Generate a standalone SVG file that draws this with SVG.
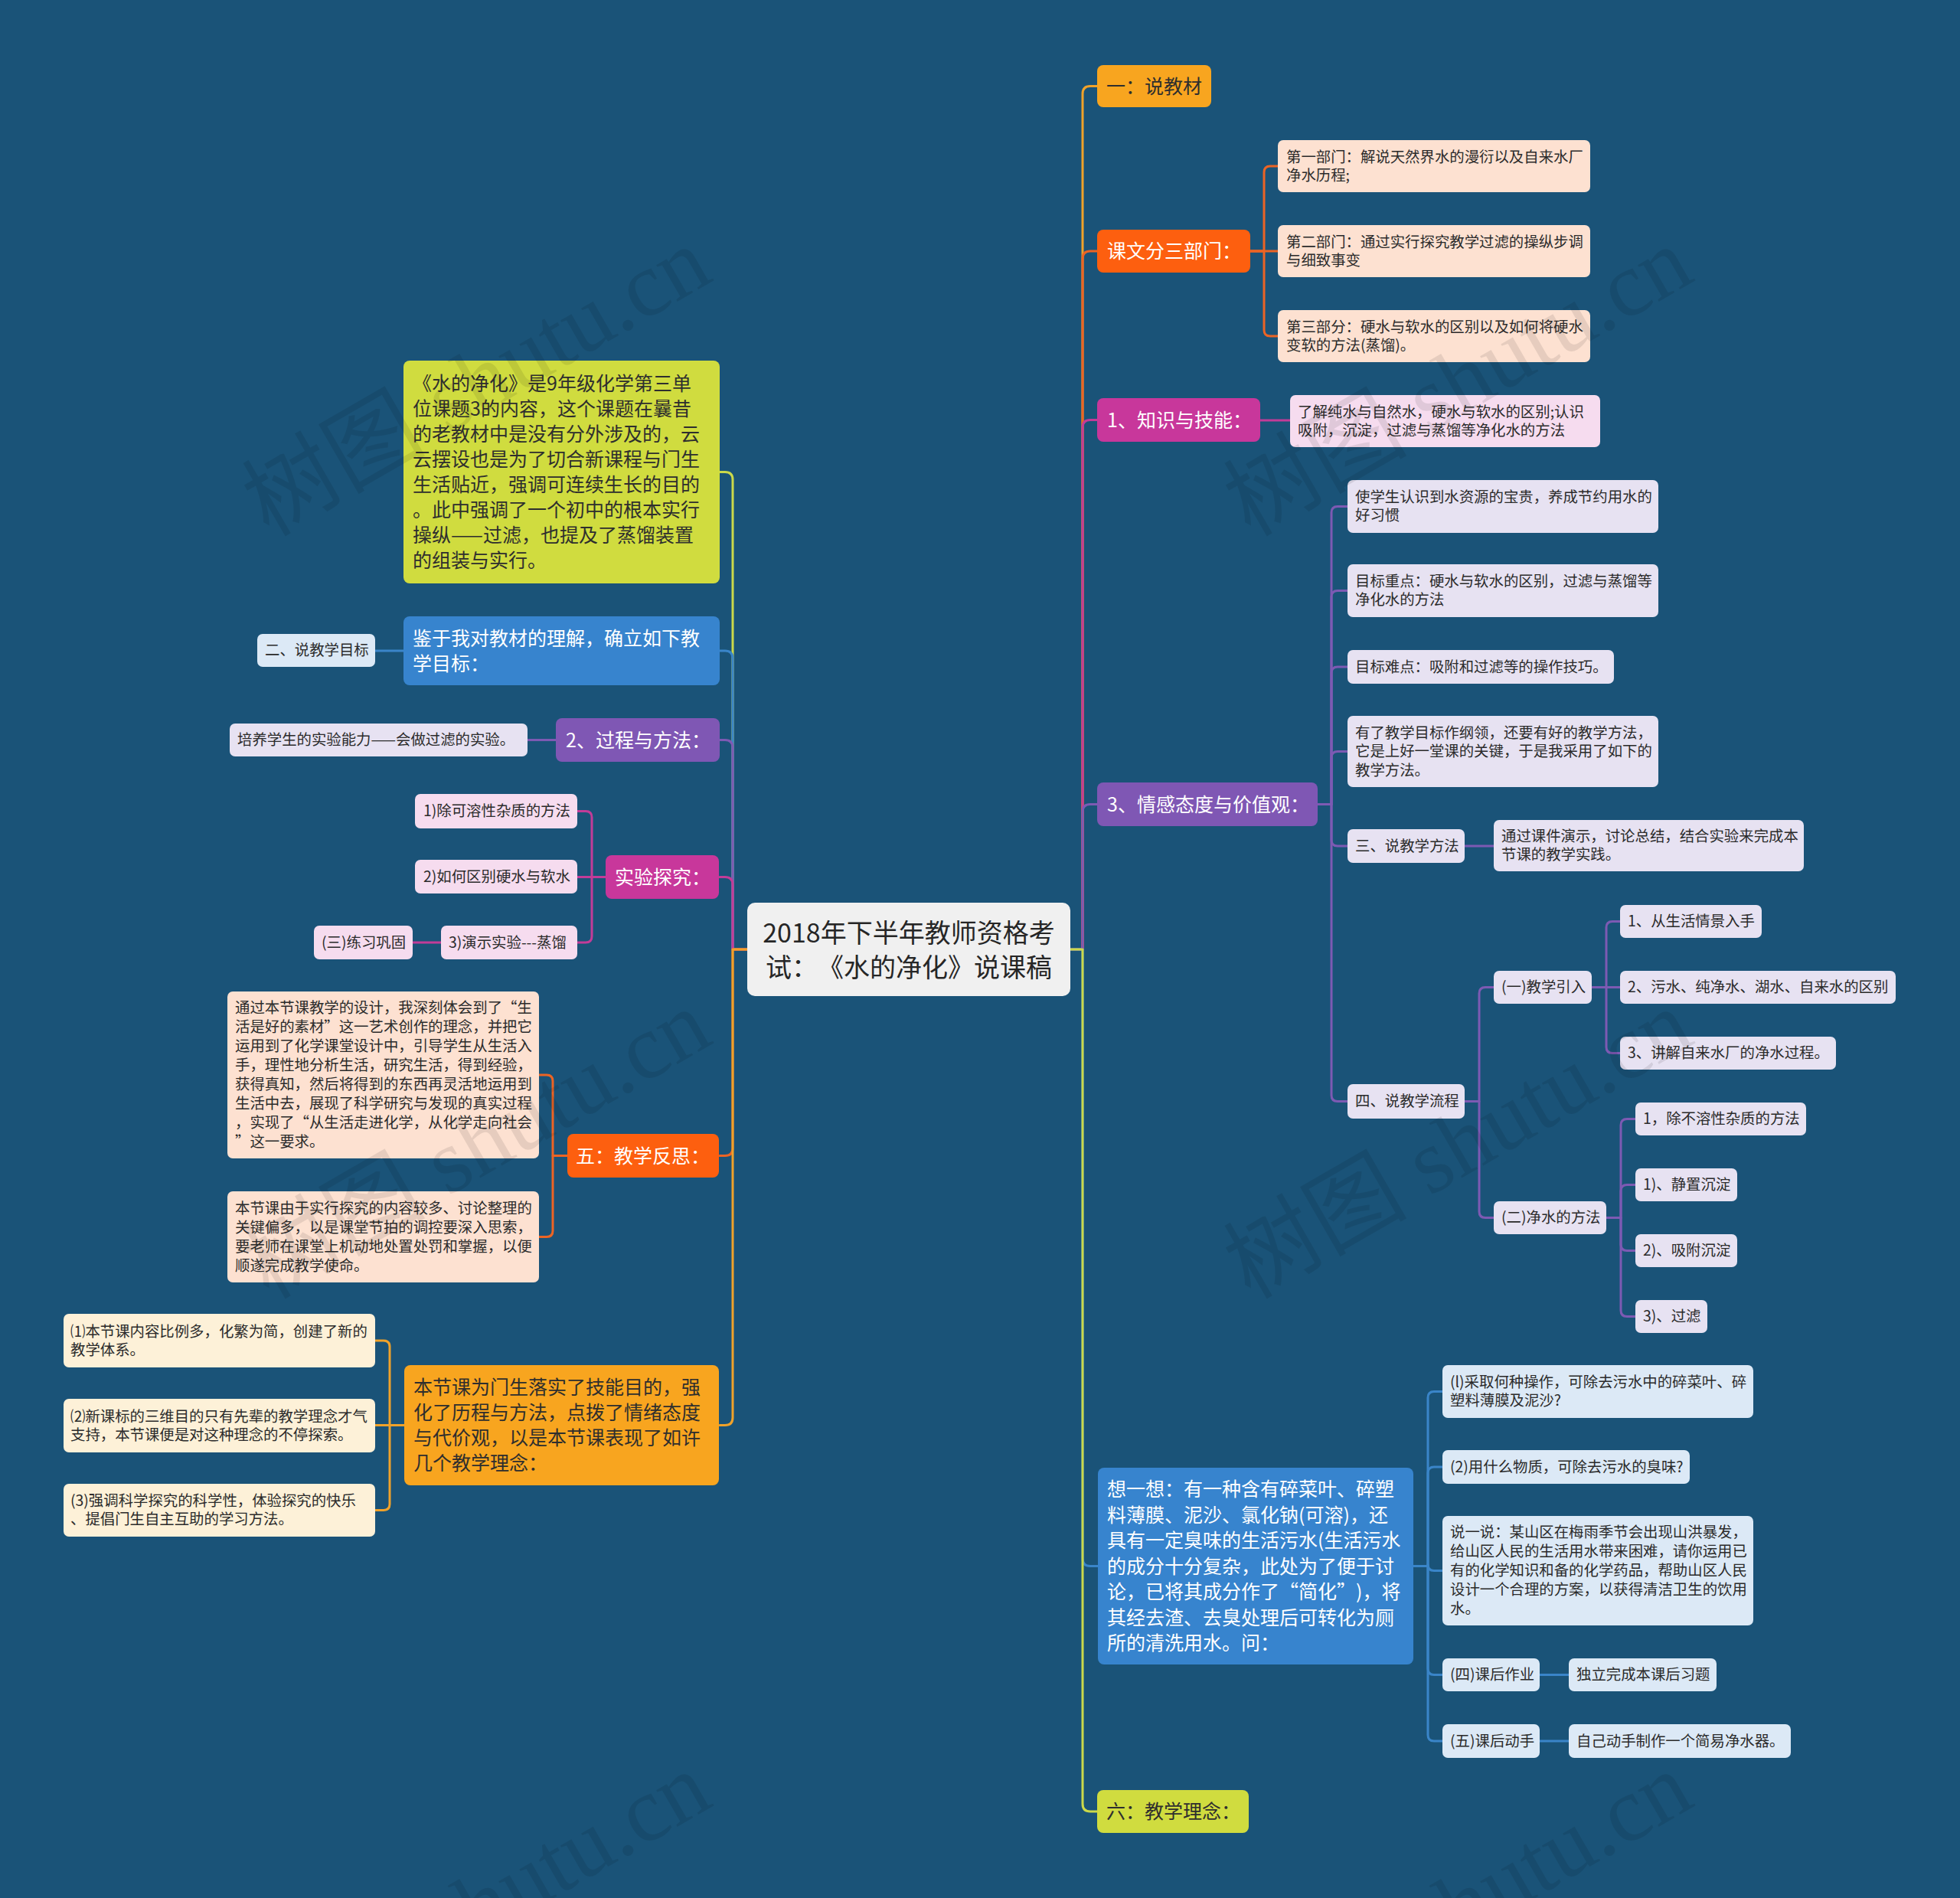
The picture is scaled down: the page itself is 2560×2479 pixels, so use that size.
<svg xmlns="http://www.w3.org/2000/svg" width="2560" height="2479" viewBox="0 0 2560 2479">
<style>
text{font-family:"Noto Sans CJK SC","Noto Sans",sans-serif;dominant-baseline:central;text-spacing-trim:space-all}
.s{font-size:19.4px;fill:#2b2b2b;transform:translateY(-2px)}
.m{font-size:25px;transform:translateY(-2px)}
.w{fill:#ffffff}
.d{fill:#2e2e2e}
.root{font-size:34px;fill:#262626;text-anchor:middle;transform:translateY(-1px)}
.c{fill:none;stroke-width:3;stroke-linecap:round;stroke-linejoin:round}
.wm{font-family:"Liberation Serif","Noto Sans CJK SC",serif;font-size:120px;fill:#000;fill-opacity:0.09;dominant-baseline:alphabetic}
.or{fill:#f8a51f}.orc{stroke:#f0a22a}
.rd{fill:#fd5f0f}.rdc{stroke:#ec6424}
.mg{fill:#c8379b}.mgc{stroke:#c23c98}
.pu{fill:#7f57b4}.puc{stroke:#7d5ab3}
.bl{fill:#3784ce}.blc{stroke:#3a85c9}
.yg{fill:#d0dc3f}.ygc{stroke:#cbd94a}
.pe{fill:#fde1d1}.pk{fill:#f6dcef}.lv{fill:#e7e2f2}.lb{fill:#dce9f6}.cr{fill:#fdf1d8}
</style>
<rect x="0" y="0" width="2560" height="2479" fill="#1a5378"/>
<g id="connectors">
<path class="c orc" d="M1398 1240 H1414 V122.5 Q1414 112.5 1424 112.5 H1433"/>
<path class="c rdc" d="M1398 1240 H1414 V338 Q1414 328 1424 328 H1433"/>
<path class="c mgc" d="M1398 1240 H1414 V558.5 Q1414 548.5 1424 548.5 H1433"/>
<path class="c puc" d="M1398 1240 H1414 V1060.5 Q1414 1050.5 1424 1050.5 H1433"/>
<path class="c blc" d="M1398 1240 H1414 V2035.5 Q1414 2045.5 1424 2045.5 H1434"/>
<path class="c ygc" d="M1398 1240 H1414 V2356 Q1414 2366 1424 2366 H1433"/>
<path class="c ygc" d="M976 1240 H957 V626.5 Q957 616.5 947 616.5 H940"/>
<path class="c blc" d="M976 1240 H957 V860 Q957 850 947 850 H940"/>
<path class="c puc" d="M976 1240 H957 V976.5 Q957 966.5 947 966.5 H940"/>
<path class="c mgc" d="M976 1240 H957 V1155.5 Q957 1145.5 947 1145.5 H940"/>
<path class="c rdc" d="M976 1240 H957 V1499.5 Q957 1509.5 947 1509.5 H940"/>
<path class="c orc" d="M976 1240 H957 V1851.5 Q957 1861.5 947 1861.5 H940"/>
<path class="c rdc" d="M1633 328 H1651 V225 Q1651 217 1659 217 H1669"/>
<path class="c rdc" d="M1633 328 H1669"/>
<path class="c rdc" d="M1633 328 H1651 V431 Q1651 439 1659 439 H1669"/>
<path class="c mgc" d="M1646 549 H1685"/>
<path class="c puc" d="M1721 1050.5 H1739 V669.5 Q1739 661.5 1747 661.5 H1760"/>
<path class="c puc" d="M1721 1050.5 H1739 V779.5 Q1739 771.5 1747 771.5 H1760"/>
<path class="c puc" d="M1721 1050.5 H1739 V879 Q1739 871 1747 871 H1760"/>
<path class="c puc" d="M1721 1050.5 H1739 V989.5 Q1739 981.5 1747 981.5 H1760"/>
<path class="c puc" d="M1721 1050.5 H1739 V1097 Q1739 1105 1747 1105 H1760"/>
<path class="c puc" d="M1721 1050.5 H1739 V1430.5 Q1739 1438.5 1747 1438.5 H1760"/>
<path class="c puc" d="M1913 1105 H1951"/>
<path class="c puc" d="M1913 1438.5 H1932 V1297.5 Q1932 1289.5 1940 1289.5 H1951"/>
<path class="c puc" d="M1913 1438.5 H1932 V1582.5 Q1932 1590.5 1940 1590.5 H1951"/>
<path class="c puc" d="M2079 1289.5 H2098 V1211.5 Q2098 1203.5 2106 1203.5 H2116"/>
<path class="c puc" d="M2079 1289.5 H2116"/>
<path class="c puc" d="M2079 1289.5 H2098 V1367.5 Q2098 1375.5 2106 1375.5 H2116"/>
<path class="c puc" d="M2098 1590.5 H2117 V1469.5 Q2117 1461.5 2125 1461.5 H2136"/>
<path class="c puc" d="M2098 1590.5 H2117 V1555.5 Q2117 1547.5 2125 1547.5 H2136"/>
<path class="c puc" d="M2098 1590.5 H2117 V1625.5 Q2117 1633.5 2125 1633.5 H2136"/>
<path class="c puc" d="M2098 1590.5 H2117 V1711.5 Q2117 1719.5 2125 1719.5 H2136"/>
<path class="c blc" d="M1846 2045.5 H1865 V1825.5 Q1865 1817.5 1873 1817.5 H1884"/>
<path class="c blc" d="M1846 2045.5 H1865 V1924 Q1865 1916 1873 1916 H1884"/>
<path class="c blc" d="M1846 2045.5 H1865 V2043.5 Q1865 2051.5 1873 2051.5 H1884"/>
<path class="c blc" d="M1846 2045.5 H1865 V2179.5 Q1865 2187.5 1873 2187.5 H1884"/>
<path class="c blc" d="M1846 2045.5 H1865 V2266 Q1865 2274 1873 2274 H1884"/>
<path class="c blc" d="M2011 2187.5 H2049"/>
<path class="c blc" d="M2011 2274 H2049"/>
<path class="c blc" d="M527 850 H490"/>
<path class="c puc" d="M726 966.5 H689"/>
<path class="c mgc" d="M791 1145.5 H773 V1067.5 Q773 1059.5 765 1059.5 H754"/>
<path class="c mgc" d="M791 1145.5 H754"/>
<path class="c mgc" d="M791 1145.5 H773 V1223 Q773 1231 765 1231 H754"/>
<path class="c mgc" d="M576 1231 H539"/>
<path class="c rdc" d="M741 1509.5 H722 V1412 Q722 1404 714 1404 H704"/>
<path class="c rdc" d="M741 1509.5 H722 V1607.5 Q722 1615.5 714 1615.5 H704"/>
<path class="c orc" d="M528 1861.5 H509 V1759 Q509 1751 501 1751 H490"/>
<path class="c orc" d="M528 1861.5 H490"/>
<path class="c orc" d="M528 1861.5 H509 V1964.5 Q509 1972.5 501 1972.5 H490"/>
</g>
<g id="root">
<rect x="976" y="1179" width="422" height="122" rx="10" fill="#f0f0f0"/>
<text class="root" x="1187" y="1217">2018年下半年教师资格考</text>
<text class="root" x="1187" y="1262">试：《水的净化》说课稿</text>
</g>
<g id="r1"><rect class="or" x="1433" y="85" width="149" height="55" rx="8"/><text class="m d" x="1445" y="112.5">一：说教材</text></g>
<g id="r2"><rect class="rd" x="1433" y="300" width="200" height="56" rx="8"/><text class="m w" x="1446" y="328">课文分三部门：</text></g>
<g id="r2a"><rect class="pe" x="1669" y="183" width="408" height="68" rx="7"/><text class="s" x="1680" y="205">第一部门：解说天然界水的漫衍以及自来水厂</text><text class="s" x="1680" y="229">净水历程;</text></g>
<g id="r2b"><rect class="pe" x="1669" y="294" width="408" height="68" rx="7"/><text class="s" x="1680" y="316">第二部门：通过实行探究教学过滤的操纵步调</text><text class="s" x="1680" y="340">与细致事变</text></g>
<g id="r2c"><rect class="pe" x="1669" y="405" width="408" height="68" rx="7"/><text class="s" x="1680" y="427">第三部分：硬水与软水的区别以及如何将硬水</text><text class="s" x="1680" y="451">变软的方法(蒸馏)。</text></g>
<g id="r3"><rect class="mg" x="1433" y="520" width="213" height="57" rx="8"/><text class="m w" x="1446" y="548.5">1、知识与技能：</text></g>
<g id="r3a"><rect class="pk" x="1685" y="516" width="405" height="68" rx="7"/><text class="s" x="1695" y="538">了解纯水与自然水，硬水与软水的区别;认识</text><text class="s" x="1695" y="562">吸附，沉淀，过滤与蒸馏等净化水的方法</text></g>
<g id="r4"><rect class="pu" x="1433" y="1022" width="288" height="57" rx="8"/><text class="m w" x="1446" y="1050.5">3、情感态度与价值观：</text></g>
<g id="r4a"><rect class="lv" x="1760" y="627" width="406" height="69" rx="7"/><text class="s" x="1770" y="649.5">使学生认识到水资源的宝贵，养成节约用水的</text><text class="s" x="1770" y="673.5">好习惯</text></g>
<g id="r4b"><rect class="lv" x="1760" y="737" width="406" height="69" rx="7"/><text class="s" x="1770" y="759.5">目标重点：硬水与软水的区别，过滤与蒸馏等</text><text class="s" x="1770" y="783.5">净化水的方法</text></g>
<g id="r4c"><rect class="lv" x="1760" y="849" width="348" height="44" rx="7"/><text class="s" x="1770" y="871">目标难点：吸附和过滤等的操作技巧。</text></g>
<g id="r4d"><rect class="lv" x="1760" y="935" width="406" height="93" rx="7"/><text class="s" x="1770" y="957">有了教学目标作纲领，还要有好的教学方法，</text><text class="s" x="1770" y="981.5">它是上好一堂课的关键，于是我采用了如下的</text><text class="s" x="1770" y="1006">教学方法。</text></g>
<g id="r4e"><rect class="lv" x="1760" y="1083" width="153" height="44" rx="7"/><text class="s" x="1770" y="1105">三、说教学方法</text></g>
<g id="r4e1"><rect class="lv" x="1951" y="1071" width="405" height="67" rx="7"/><text class="s" x="1961" y="1092.5">通过课件演示，讨论总结，结合实验来完成本</text><text class="s" x="1961" y="1116.5">节课的教学实践。</text></g>
<g id="r4f"><rect class="lv" x="1760" y="1416" width="153" height="45" rx="7"/><text class="s" x="1770" y="1438.5">四、说教学流程</text></g>
<g id="r4f1"><rect class="lv" x="1951" y="1268" width="128" height="43" rx="7"/><text class="s" x="1961" y="1289.5">(一)教学引入</text></g>
<g id="r4f1a"><rect class="lv" x="2116" y="1182" width="185" height="43" rx="7"/><text class="s" x="2126" y="1203.5">1、从生活情景入手</text></g>
<g id="r4f1b"><rect class="lv" x="2116" y="1268" width="360" height="43" rx="7"/><text class="s" x="2126" y="1289.5">2、污水、纯净水、湖水、自来水的区别</text></g>
<g id="r4f1c"><rect class="lv" x="2116" y="1354" width="282" height="43" rx="7"/><text class="s" x="2126" y="1375.5">3、讲解自来水厂的净水过程。</text></g>
<g id="r4f2"><rect class="lv" x="1951" y="1569" width="147" height="43" rx="7"/><text class="s" x="1961" y="1590.5">(二)净水的方法</text></g>
<g id="r4f2a"><rect class="lv" x="2136" y="1440" width="223" height="43" rx="7"/><text class="s" x="2146" y="1461.5">1，除不溶性杂质的方法</text></g>
<g id="r4f2b"><rect class="lv" x="2136" y="1526" width="133" height="43" rx="7"/><text class="s" x="2146" y="1547.5">1)、静置沉淀</text></g>
<g id="r4f2c"><rect class="lv" x="2136" y="1612" width="133" height="43" rx="7"/><text class="s" x="2146" y="1633.5">2)、吸附沉淀</text></g>
<g id="r4f2d"><rect class="lv" x="2136" y="1698" width="94" height="43" rx="7"/><text class="s" x="2146" y="1719.5">3)、过滤</text></g>
<g id="r5"><rect class="bl" x="1434" y="1917" width="412" height="257" rx="8"/>
<text class="m w" x="1446" y="1945">想一想：有一种含有碎菜叶、碎塑</text>
<text class="m w" x="1446" y="1978.5">料薄膜、泥沙、氯化钠(可溶)，还</text>
<text class="m w" x="1446" y="2012">具有一定臭味的生活污水(生活污水</text>
<text class="m w" x="1446" y="2045.5">的成分十分复杂，此处为了便于讨</text>
<text class="m w" x="1446" y="2079">论，已将其成分作了“简化”)，将</text>
<text class="m w" x="1446" y="2112.5">其经去渣、去臭处理后可转化为厕</text>
<text class="m w" x="1446" y="2146">所的清洗用水。问：</text></g>
<g id="r5a"><rect class="lb" x="1884" y="1783" width="406" height="69" rx="7"/><text class="s" x="1894" y="1805.5">(l)采取何种操作，可除去污水中的碎菜叶、碎</text><text class="s" x="1894" y="1829.5">塑料薄膜及泥沙?</text></g>
<g id="r5b"><rect class="lb" x="1884" y="1894" width="323" height="44" rx="7"/><text class="s" x="1894" y="1916">(2)用什么物质，可除去污水的臭味?</text></g>
<g id="r5c"><rect class="lb" x="1884" y="1980" width="406" height="143" rx="7"/>
<text class="s" x="1894" y="2001.5">说一说：某山区在梅雨季节会出现山洪暴发，</text>
<text class="s" x="1894" y="2026.5">给山区人民的生活用水带来困难，请你运用已</text>
<text class="s" x="1894" y="2051.5">有的化学知识和备的化学药品，帮助山区人民</text>
<text class="s" x="1894" y="2076.5">设计一个合理的方案，以获得清洁卫生的饮用</text>
<text class="s" x="1894" y="2101.5">水。</text></g>
<g id="r5d"><rect class="lb" x="1884" y="2166" width="127" height="43" rx="7"/><text class="s" x="1894" y="2187.5">(四)课后作业</text></g>
<g id="r5d1"><rect class="lb" x="2049" y="2166" width="193" height="43" rx="7"/><text class="s" x="2059" y="2187.5">独立完成本课后习题</text></g>
<g id="r5e"><rect class="lb" x="1884" y="2252" width="127" height="44" rx="7"/><text class="s" x="1894" y="2274">(五)课后动手</text></g>
<g id="r5e1"><rect class="lb" x="2049" y="2252" width="290" height="44" rx="7"/><text class="s" x="2059" y="2274">自己动手制作一个简易净水器。</text></g>
<g id="r6"><rect class="yg" x="1433" y="2338" width="198" height="56" rx="8"/><text class="m d" x="1445" y="2366">六：教学理念：</text></g>
<g id="l1"><rect class="yg" x="527" y="471" width="413" height="291" rx="8"/>
<text class="m d" x="539" y="501">《水的净化》是9年级化学第三单</text>
<text class="m d" x="539" y="534">位课题3的内容，这个课题在曩昔</text>
<text class="m d" x="539" y="567">的老教材中是没有分外涉及的，云</text>
<text class="m d" x="539" y="600">云摆设也是为了切合新课程与门生</text>
<text class="m d" x="539" y="633">生活贴近，强调可连续生长的目的</text>
<text class="m d" x="539" y="666">。此中强调了一个初中的根本实行</text>
<text class="m d" x="539" y="699">操纵——过滤，也提及了蒸馏装置</text>
<text class="m d" x="539" y="732">的组装与实行。</text></g>
<g id="l2"><rect class="bl" x="527" y="805" width="413" height="90" rx="8"/><text class="m w" x="539" y="833.5">鉴于我对教材的理解，确立如下教</text><text class="m w" x="539" y="866.5">学目标：</text></g>
<g id="l2a"><rect class="lb" x="336" y="828" width="154" height="43" rx="7"/><text class="s" x="346" y="849.5">二、说教学目标</text></g>
<g id="l3"><rect class="pu" x="726" y="938" width="214" height="57" rx="8"/><text class="m w" x="739" y="966.5">2、过程与方法：</text></g>
<g id="l3a"><rect class="lv" x="300" y="945" width="389" height="43" rx="7"/><text class="s" x="310" y="966.5">培养学生的实验能力——会做过滤的实验。</text></g>
<g id="l4"><rect class="mg" x="791" y="1117" width="148" height="57" rx="8"/><text class="m w" x="803" y="1145.5">实验探究：</text></g>
<g id="l4a"><rect class="pk" x="542" y="1037" width="212" height="45" rx="7"/><text class="s" x="553" y="1059.5">1)除可溶性杂质的方法</text></g>
<g id="l4b"><rect class="pk" x="542" y="1123" width="212" height="44" rx="7"/><text class="s" x="553" y="1145">2)如何区别硬水与软水</text></g>
<g id="l4c"><rect class="pk" x="576" y="1209" width="178" height="44" rx="7"/><text class="s" x="586" y="1231">3)演示实验---蒸馏</text></g>
<g id="l4c1"><rect class="pk" x="410" y="1209" width="129" height="44" rx="7"/><text class="s" x="420" y="1231">(三)练习巩固</text></g>
<g id="l5"><rect class="rd" x="741" y="1481" width="198" height="57" rx="8"/><text class="m w" x="752" y="1509.5">五：教学反思：</text></g>
<g id="l5a"><rect class="pe" x="297" y="1295" width="407" height="218" rx="7"/>
<text class="s" x="307" y="1316.5">通过本节课教学的设计，我深刻体会到了“生</text>
<text class="s" x="307" y="1341.5">活是好的素材”这一艺术创作的理念，并把它</text>
<text class="s" x="307" y="1366.5">运用到了化学课堂设计中，引导学生从生活入</text>
<text class="s" x="307" y="1391.5">手，理性地分析生活，研究生活，得到经验，</text>
<text class="s" x="307" y="1416.5">获得真知，然后将得到的东西再灵活地运用到</text>
<text class="s" x="307" y="1441.5">生活中去，展现了科学研究与发现的真实过程</text>
<text class="s" x="307" y="1466.5">，实现了“从生活走进化学，从化学走向社会</text>
<text class="s" x="307" y="1491.5">”这一要求。</text></g>
<g id="l5b"><rect class="pe" x="297" y="1556" width="407" height="119" rx="7"/>
<text class="s" x="307" y="1578">本节课由于实行探究的内容较多、讨论整理的</text>
<text class="s" x="307" y="1603">关键偏多，以是课堂节拍的调控要深入思索，</text>
<text class="s" x="307" y="1628">要老师在课堂上机动地处置处罚和掌握，以便</text>
<text class="s" x="307" y="1653">顺遂完成教学使命。</text></g>
<g id="l6"><rect class="or" x="528" y="1783" width="411" height="157" rx="8"/>
<text class="m d" x="540" y="1812">本节课为门生落实了技能目的，强</text>
<text class="m d" x="540" y="1845">化了历程与方法，点拨了情绪态度</text>
<text class="m d" x="540" y="1878">与代价观，以是本节课表现了如许</text>
<text class="m d" x="540" y="1911">几个教学理念：</text></g>
<g id="l6a"><rect class="cr" x="83" y="1716" width="407" height="70" rx="7"/><text class="s" x="92" y="1739">⑴本节课内容比例多，化繁为简，创建了新的</text><text class="s" x="92" y="1763">教学体系。</text></g>
<g id="l6b"><rect class="cr" x="83" y="1827" width="407" height="70" rx="7"/><text class="s" x="92" y="1850">⑵新课标的三维目的只有先辈的教学理念才气</text><text class="s" x="92" y="1874">支持，本节课便是对这种理念的不停探索。</text></g>
<g id="l6c"><rect class="cr" x="83" y="1938" width="407" height="69" rx="7"/><text class="s" x="92" y="1960.5">(3)强调科学探究的科学性，体验探究的快乐</text><text class="s" x="92" y="1984.5">、提倡门生自主互助的学习方法。</text></g>
<g id="watermark">
<text class="wm" transform="translate(351 702) rotate(-30)">树图 shutu.cn</text>
<text class="wm" transform="translate(1633 702) rotate(-30)">树图 shutu.cn</text>
<text class="wm" transform="translate(351 1698) rotate(-30)">树图 shutu.cn</text>
<text class="wm" transform="translate(1633 1698) rotate(-30)">树图 shutu.cn</text>
<text class="wm" transform="translate(351 2694) rotate(-30)">树图 shutu.cn</text>
<text class="wm" transform="translate(1633 2694) rotate(-30)">树图 shutu.cn</text>
</g>
</svg>
